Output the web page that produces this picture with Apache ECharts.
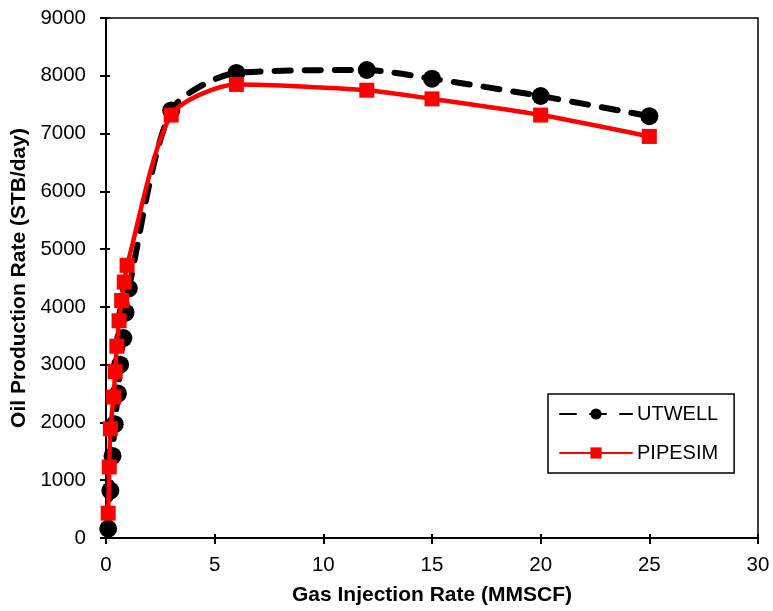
<!DOCTYPE html>
<html>
<head>
<meta charset="utf-8">
<script src="https://cdn.jsdelivr.net/npm/echarts@6/dist/echarts.min.js"></script>
<style>
  html, body { margin: 0; padding: 0; background: #fff; }
  #chart { width: 773px; height: 611px; }
</style>
</head>
<body>
<div id="chart"></div>
<script>
// Gas lift performance: oil rate vs. injected gas, two simulators
const utwellGas = [0.1, 0.2, 0.3, 0.4, 0.55, 0.65, 0.8, 0.9, 1.05, 3, 6, 12, 15, 20, 25];
const utwellOil = [160, 820, 1420, 1970, 2500, 3000, 3460, 3900, 4320, 7400, 8050, 8100, 7950, 7650, 7300];

const pipesimGas = [0.1, 0.15, 0.2, 0.35, 0.42, 0.5, 0.6, 0.72, 0.84, 0.97, 3, 6, 12, 15, 20, 25];
const pipesimOil = [430, 1230, 1890, 2440, 2880, 3320, 3760, 4110, 4430, 4720, 7320, 7850, 7750, 7600, 7320, 6950];

const xTicks = { min: 0, max: 30, interval: 5 };
const yTicks = { min: 0, max: 9000, interval: 1000 };

const FONT = '"Liberation Sans", Arial, sans-serif';

const pairs = (xs, ys) => xs.map((x, i) => [x, ys[i]]);
const plain = v => String(v);

const chart = echarts.init(document.getElementById('chart'), null, { renderer: 'canvas' });

const baseAxis = {
  axisLine: { show: true, lineStyle: { color: '#000', width: 2 } },
  splitLine: { show: false }
};

chart.setOption({
  animation: false,
  backgroundColor: '#fff',
  grid: {
    left: 106, right: 15, top: 18, bottom: 73,
    containLabel: false, outerBoundsMode: 'none',
    show: true, borderColor: '#000', borderWidth: 1.5, backgroundColor: 'transparent'
  },
  legend: {
    orient: 'vertical',
    left: 548, top: 394,
    padding: [10, 16, 10, 11],
    itemGap: 19,
    itemWidth: 72,
    itemHeight: 14,
    backgroundColor: '#fff',
    borderColor: '#000',
    borderWidth: 1.5,
    textStyle: { fontFamily: FONT, fontSize: 20, color: '#000', lineHeight: 20 },
    data: ['UTWELL', 'PIPESIM']
  },
  xAxis: [
    Object.assign({}, baseAxis, {
      type: 'value', min: xTicks.min, max: xTicks.max, interval: xTicks.interval,
      name: 'Gas Injection Rate (MMSCF)', nameLocation: 'middle', nameGap: 47,
      nameTextStyle: { fontFamily: FONT, fontSize: 21, fontWeight: 'bold', color: '#000' },
      axisTick: { show: true, inside: false, length: 6, lineStyle: { color: '#000', width: 2 } },
      axisLabel: { fontFamily: FONT, fontSize: 20.5, color: '#000', margin: 17, formatter: plain }
    }),
    {
      type: 'value', min: xTicks.min, max: xTicks.max, interval: xTicks.interval,
      position: 'bottom',
      axisLine: { show: false },
      axisTick: { show: true, inside: true, length: 4, lineStyle: { color: '#000', width: 2 } },
      axisLabel: { show: false },
      splitLine: { show: false }
    }
  ],
  yAxis: [
    Object.assign({}, baseAxis, {
      type: 'value', min: yTicks.min, max: yTicks.max, interval: yTicks.interval,
      name: 'Oil Production Rate (STB/day)', nameLocation: 'middle', nameGap: 75,
      nameTextStyle: { fontFamily: FONT, fontSize: 21, fontWeight: 'bold', color: '#000' },
      axisTick: { show: true, inside: false, length: 6, lineStyle: { color: '#000', width: 2 } },
      axisLabel: { fontFamily: FONT, fontSize: 20.5, color: '#000', margin: 20, formatter: plain }
    }),
    {
      type: 'value', min: yTicks.min, max: yTicks.max, interval: yTicks.interval,
      position: 'left',
      axisLine: { show: false },
      axisTick: { show: true, inside: true, length: 4, lineStyle: { color: '#000', width: 2 } },
      axisLabel: { show: false },
      splitLine: { show: false }
    }
  ],
  series: [
    {
      name: 'UTWELL',
      type: 'line',
      data: pairs(utwellGas, utwellOil),
      smooth: 0.25,
      symbol: 'circle',
      symbolSize: 18,
      itemStyle: { color: '#000' },
      lineStyle: { color: '#000', width: 6, type: [16, 14], cap: 'round' },
      z: 2
    },
    {
      name: 'PIPESIM',
      type: 'line',
      data: pairs(pipesimGas, pipesimOil),
      smooth: 0.25,
      symbol: 'rect',
      symbolSize: 15,
      itemStyle: { color: '#ff0000' },
      lineStyle: { color: '#ff0000', width: 4.5, cap: 'round' },
      z: 3
    }
  ]
});
</script>
</body>
</html>
